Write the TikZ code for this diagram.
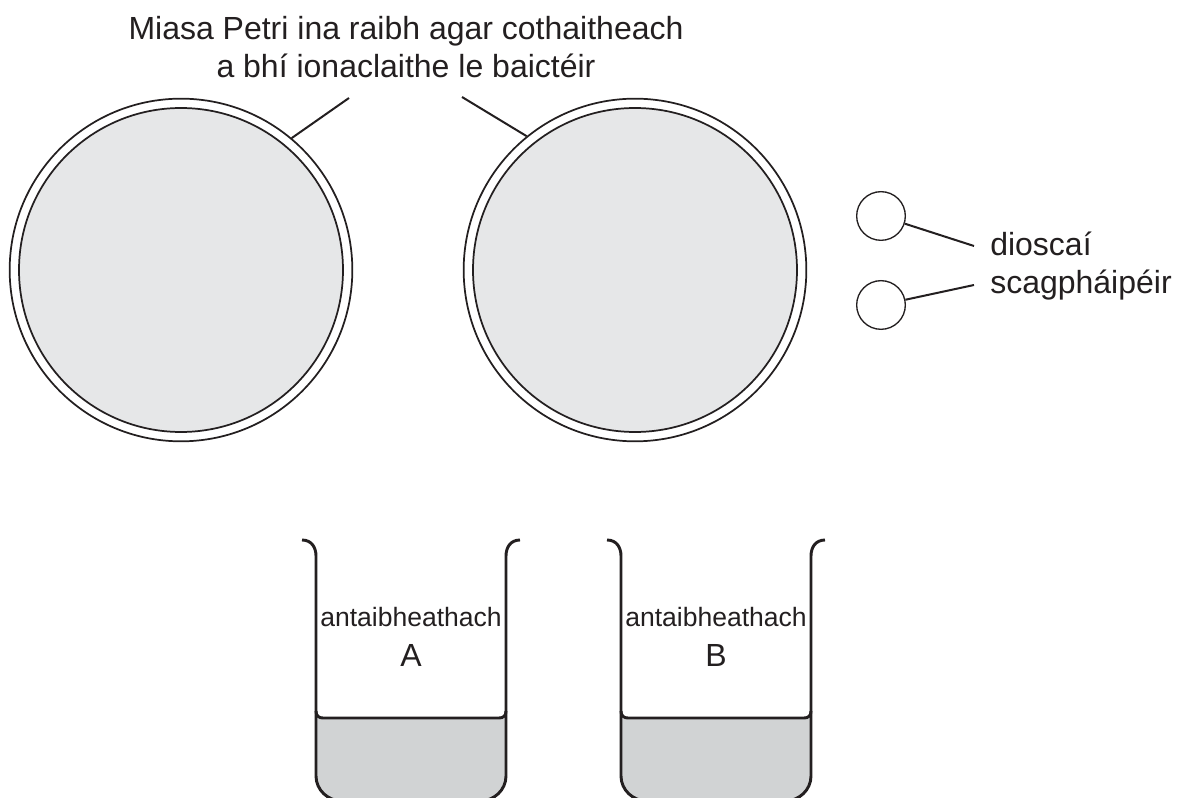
\documentclass[tikz,border=0pt]{standalone}
\usepackage{fontspec}
\setmainfont{Liberation Sans}
\usetikzlibrary{calc,positioning}
\definecolor{InkBlack}{HTML}{231F20}
\definecolor{AgarGray}{HTML}{E6E7E8}
\definecolor{LiquidGray}{HTML}{D1D3D4}
\tikzset{
  dishouter/.style={draw=InkBlack, fill=white, circle, line width=1.3pt, minimum size=257pt, inner sep=0pt},
  dishinner/.style={draw=InkBlack, fill=AgarGray, circle, line width=1.3pt, minimum size=243pt, inner sep=0pt},
  disc/.style={draw=InkBlack, fill=white, circle, line width=1pt, minimum size=36.5pt, inner sep=0pt},
  leader/.style={draw=InkBlack, line width=1.5pt},
  walls/.style={draw=InkBlack, line width=2.2pt},
  bigtext/.style={text=InkBlack, align=center, font=\fontsize{24}{28.5}\selectfont, inner sep=0pt},
  sidetext/.style={text=InkBlack, align=left, font=\fontsize{24}{28.5}\selectfont, inner sep=0pt},
  beakertext/.style={text=InkBlack, align=center, font=\fontsize{19.9}{29}\selectfont, inner sep=0pt}
}
\begin{document}
\begin{tikzpicture}[x=0.75pt, y=-0.75pt]
  \useasboundingbox (0,0) rectangle (1183,798);
  \node[bigtext] (title) at (406,47) {Miasa Petri ina raibh agar cothaitheach\\a bhí ionaclaithe le baictéir};
  % dishes
  \node[dishouter] (dishl) at (181,270) {};
  \node[dishinner] (dishla) at (181,270) {};
  \node[dishouter] (dishr) at (635,270) {};
  \node[dishinner] (dishra) at (635,270) {};
  \coordinate (leadl) at (349,98);
  \coordinate (leadr) at (462,97);
  \draw[leader] (dishl.50.5) -- (leadl);
  \draw[leader] (dishr.129.7) -- (leadr);
  % discs
  \node[disc] (disca) at (881,216) {};
  \node[disc] (discb) at (881,305) {};
  \node[sidetext, anchor=west] (discs) at (990,266) {dioscaí\\scagpháipéir};
  \coordinate (leada) at (974,246);
  \coordinate (leadb) at (974,285);
  \draw[leader] (disca) -- (leada);
  \draw[leader] (discb) -- (leadb);
  % beakers
  \foreach \bx/\bn/\bl in {316/a/A,621/b/B}{
    \begin{scope}[shift={(\bx,0)}]
      \fill[LiquidGray] (0,718) -- (0,776) .. controls (0,790) and (12,801) .. (26,801) -- (164,801) .. controls (178,801) and (190,790) .. (190,776) -- (190,718) -- cycle;
      \draw[walls] (-14,540) .. controls (-4,540) and (0,548) .. (0,556) -- (0,776) .. controls (0,790) and (12,801) .. (26,801) -- (164,801) .. controls (178,801) and (190,790) .. (190,776) -- (190,556) .. controls (190,548) and (194,540) .. (204,540);
      \draw[walls] (0,711) .. controls (0,716) and (3,718) .. (7,718) -- (183,718) .. controls (187,718) and (190,716) .. (190,711);
      \node[beakertext] (label\bn) at (95,637) {antaibheathach\\[1pt]\fontsize{24}{28}\selectfont\bl};
    \end{scope}
  }
\end{tikzpicture}
\end{document}
